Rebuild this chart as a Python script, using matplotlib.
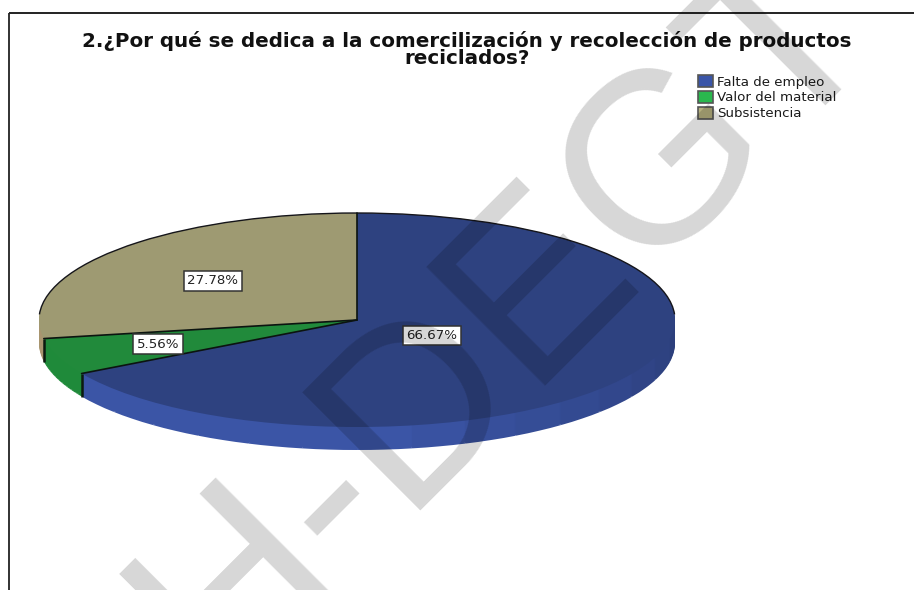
import matplotlib
matplotlib.use("Agg")
import matplotlib.pyplot as plt
from matplotlib.patches import Patch, Arc
from matplotlib.colors import to_rgb
import numpy as np

title = "2.¿Por qué se dedica a la comercilización y recolección de productos\nreciclados?"
categories = ["Falta de empleo", "Valor del material", "Subsistencia"]
values = [66.67, 5.56, 27.78]
labels = ["66.67%", "5.56%", "27.78%"]
top_colors = ["#2e4280", "#218a3b", "#9e9a72"]
side_light = ["#3b55a6", "#1f8a3a", "#a8956f"]
side_dark = ["#2c3f7c", "#1c7a34", "#a8956f"]
legend_colors = ["#3a55a8", "#2ab84e", "#b5b07e"]
watermark = "H-DEGT"

W, H = 914, 590
plt.rcParams["font.family"] = ["DejaVu Sans"]
fig = plt.figure(figsize=(W / 100, H / 100), dpi=100, facecolor="white")

cx, cy, rx, ry, depth = 357, 320, 318, 107, 23
ax = fig.add_axes([(cx - rx) / W, 1 - (cy + ry + depth) / H, 2 * rx / W, (2 * ry + depth) / H])
ax.axis("off")
d = depth / ry

# side facets: each slice cut in equal facets, shaded from dark (right) to light (front)
n_facets = 24
facet_sizes, facet_cols = [], []
start = 0.0
total = sum(values)
for v, lo, hi in zip(values, side_dark, side_light):
    for k in range(n_facets):
        a = (start + (k + 0.5) * v / n_facets) / total * 360
        t = np.clip((a - 95) / 80, 0, 1)
        col = np.array(to_rgb(lo)) * (1 - t) + np.array(to_rgb(hi)) * t
        facet_sizes.append(v / n_facets)
        facet_cols.append(tuple(col))
    start += v

for i in range(depth, 0, -1):
    ax.pie(facet_sizes, colors=facet_cols, startangle=90, counterclock=False,
           center=(0, -i * d / depth), radius=1, frame=False,
           wedgeprops=dict(linewidth=0.3, edgecolor="none"))
ax.pie(values, colors=top_colors, startangle=90, counterclock=False,
       center=(0, 0), radius=1, frame=False, wedgeprops=dict(linewidth=0))
ax.set_aspect("auto")
ax.set_xlim(-1, 1)
ax.set_ylim(-1 - d, 1)

# rim on the back half and slice edges
ax.add_patch(Arc((0, 0), 2, 2, theta1=3, theta2=177, color="#15151a", lw=1.0, clip_on=False))
bounds = 90 - np.cumsum([0] + values) / total * 360
for b in bounds[:3]:
    c, s = np.cos(np.radians(b)), np.sin(np.radians(b))
    ax.plot([0, c], [0, s], color="#0c1410", lw=1.2, clip_on=False, solid_capstyle="round")
for b in bounds[1:3]:
    c, s = np.cos(np.radians(b)), np.sin(np.radians(b))
    ax.plot([c, c], [s, s - d], color="#0c1a10", lw=1.8, clip_on=False, solid_capstyle="butt")

# Pixel overlay
ov = fig.add_axes([0, 0, 1, 1], zorder=5)
ov.set_xlim(0, W)
ov.set_ylim(H, 0)
ov.axis("off")
ov.patch.set_alpha(0)

ov.plot([9, W], [13, 13], color="#111111", lw=1.3, solid_capstyle="butt")
ov.plot([9, 9], [13, H], color="#222222", lw=1.3, solid_capstyle="butt")

ov.text(467, 49.5, title, ha="center", va="center", fontsize=14.3, fontweight="bold",
        color="#111111", linespacing=0.88)

for txt, (x, y) in zip(labels, [(432, 335.5), (158, 344), (213, 281)]):
    ov.text(x, y, txt, ha="center", va="center", fontsize=9.6, color="#222222",
            bbox=dict(boxstyle="square,pad=0.25", fc="white", ec="#333333", lw=1.1))

handles = [Patch(facecolor=c, edgecolor="#555555", lw=1.2) for c in legend_colors]
ov.legend(handles, categories, loc="upper left", bbox_to_anchor=(698 / W, 1 - 75 / H),
          bbox_transform=fig.transFigure, frameon=False, fontsize=9.6,
          handlelength=1.12, handleheight=1.0, handletextpad=0.3, labelspacing=0.17,
          borderpad=0, borderaxespad=0, labelcolor="#1a1a1a")

ov.text(506, 317, watermark, rotation=45, ha="center", va="center", rotation_mode="anchor",
        fontsize=176, color="black", alpha=0.16, zorder=10, family="Liberation Sans")

fig.savefig("out.png", dpi=100)
